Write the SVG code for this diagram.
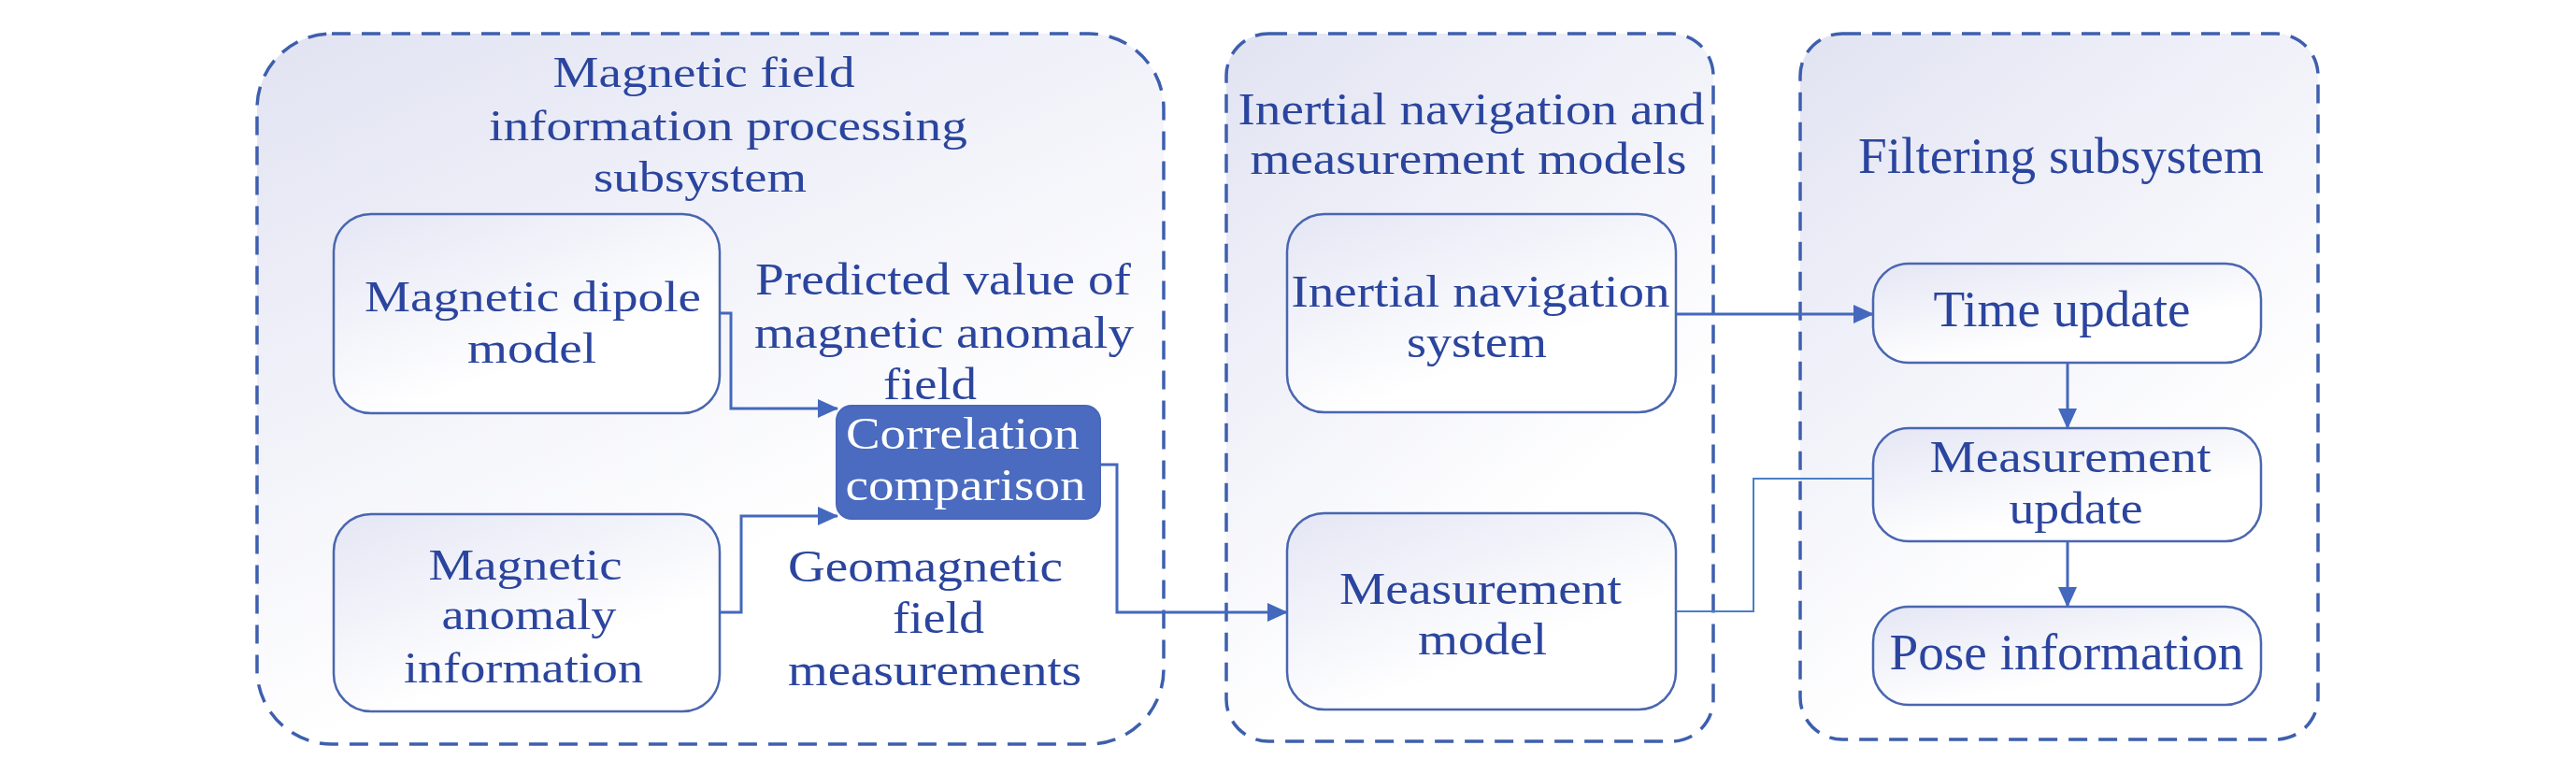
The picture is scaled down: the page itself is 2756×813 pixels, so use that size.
<svg xmlns="http://www.w3.org/2000/svg" width="2756" height="813" viewBox="0 0 2756 813">
<defs>
<linearGradient id="gOuter" x1="0" y1="0" x2="0.55" y2="1">
<stop offset="0" stop-color="#e1e3f2"/>
<stop offset="0.8" stop-color="#ffffff"/>
</linearGradient>
<linearGradient id="gInner" x1="0" y1="0" x2="0.7" y2="1">
<stop offset="0" stop-color="#e4e6f4"/>
<stop offset="0.75" stop-color="#ffffff"/>
</linearGradient>
<marker id="arr" viewBox="0 0 22 20" refX="21" refY="10" markerWidth="22" markerHeight="20" markerUnits="userSpaceOnUse" orient="auto">
<path d="M0,0 L22,10 L0,20 Z" fill="#4468bd"/>
</marker>
</defs>
<style>
.outer{fill:url(#gOuter);stroke:#3e5fae;stroke-width:3.5;stroke-dasharray:20 12}
.box{fill:url(#gInner);stroke:#4a66b0;stroke-width:2.5}
.t{font-family:"Liberation Serif","Times New Roman",serif;fill:#2b459e;text-anchor:middle}
.s47{font-size:47px}
.s48{font-size:48px}
.s50{font-size:50px}
.s54{font-size:54px}
.w{fill:#ffffff}
.conn{fill:none;stroke:#4468bd;stroke-width:3}
.thin{fill:none;stroke:#4a7fc6;stroke-width:2}
</style>
<rect width="2756" height="813" fill="#ffffff"/>

<g id="panel-magnetic">
<rect class="outer" x="275" y="36" width="970" height="760" rx="80" ry="80"/>
<text class="t s47" x="753" y="93" textLength="323" lengthAdjust="spacingAndGlyphs">Magnetic field</text>
<text class="t s47" x="779" y="150" textLength="512" lengthAdjust="spacingAndGlyphs">information processing</text>
<text class="t s47" x="749" y="205" textLength="228" lengthAdjust="spacingAndGlyphs">subsystem</text>
</g>

<g id="panel-inertial">
<rect class="outer" x="1312" y="36" width="521" height="757" rx="45" ry="45"/>
<text class="t s48" x="1574" y="133" textLength="499" lengthAdjust="spacingAndGlyphs">Inertial navigation and</text>
<text class="t s48" x="1571" y="186" textLength="467" lengthAdjust="spacingAndGlyphs">measurement models</text>
</g>

<g id="panel-filter">
<rect class="outer" x="1926" y="36" width="554" height="755" rx="45" ry="45"/>
<text class="t s54" x="2205" y="185" textLength="434" lengthAdjust="spacingAndGlyphs">Filtering subsystem</text>
</g>

<g id="node-dipole">
<rect class="box" x="357" y="229" width="413" height="213" rx="40" ry="40"/>
<text class="t s47" x="570" y="333" textLength="360" lengthAdjust="spacingAndGlyphs">Magnetic dipole</text>
<text class="t s47" x="569" y="388" textLength="138" lengthAdjust="spacingAndGlyphs">model</text>
</g>

<g id="node-anomaly">
<rect class="box" x="357" y="550" width="413" height="211" rx="40" ry="40"/>
<text class="t s47" x="562" y="620" textLength="207" lengthAdjust="spacingAndGlyphs">Magnetic</text>
<text class="t s47" x="566" y="673" textLength="187" lengthAdjust="spacingAndGlyphs">anomaly</text>
<text class="t s47" x="560" y="730" textLength="256" lengthAdjust="spacingAndGlyphs">information</text>
</g>

<g id="label-predicted">
<text class="t s48" x="1009" y="315" textLength="402" lengthAdjust="spacingAndGlyphs">Predicted value of</text>
<text class="t s48" x="1010" y="372" textLength="406" lengthAdjust="spacingAndGlyphs">magnetic anomaly</text>
<text class="t s48" x="995" y="427" textLength="100" lengthAdjust="spacingAndGlyphs">field</text>
</g>

<g id="node-correlation">
<rect x="895" y="434" width="282" height="121" rx="16" ry="16" fill="#4a6bbf" stroke="#4a66b8" stroke-width="2"/>
<text class="t s48 w" x="1030" y="480" textLength="250" lengthAdjust="spacingAndGlyphs">Correlation</text>
<text class="t s48 w" x="1033" y="535" textLength="257" lengthAdjust="spacingAndGlyphs">comparison</text>
</g>

<g id="label-geomagnetic">
<text class="t s48" x="990" y="622" textLength="294" lengthAdjust="spacingAndGlyphs">Geomagnetic</text>
<text class="t s48" x="1004" y="677" textLength="98" lengthAdjust="spacingAndGlyphs">field</text>
<text class="t s48" x="1000" y="733" textLength="314" lengthAdjust="spacingAndGlyphs">measurements</text>
</g>

<g id="node-ins">
<rect class="box" x="1377" y="229" width="416" height="212" rx="40" ry="40"/>
<text class="t s48" x="1584" y="328" textLength="405" lengthAdjust="spacingAndGlyphs">Inertial navigation</text>
<text class="t s48" x="1580" y="382" textLength="150" lengthAdjust="spacingAndGlyphs">system</text>
</g>

<g id="node-measmodel">
<rect class="box" x="1377" y="549" width="416" height="210" rx="40" ry="40"/>
<text class="t s48" x="1584" y="646" textLength="302" lengthAdjust="spacingAndGlyphs">Measurement</text>
<text class="t s48" x="1586" y="700" textLength="138" lengthAdjust="spacingAndGlyphs">model</text>
</g>

<g id="node-timeupdate">
<rect class="box" x="2004" y="282" width="415" height="106" rx="38" ry="38"/>
<text class="t s54" x="2206" y="349" textLength="275" lengthAdjust="spacingAndGlyphs">Time update</text>
</g>

<g id="node-measupdate">
<rect class="box" x="2004" y="458" width="415" height="121" rx="38" ry="38"/>
<text class="t s48" x="2215" y="505" textLength="301" lengthAdjust="spacingAndGlyphs">Measurement</text>
<text class="t s48" x="2221" y="560" textLength="143" lengthAdjust="spacingAndGlyphs">update</text>
</g>

<g id="node-pose">
<rect class="box" x="2004" y="649" width="415" height="105" rx="38" ry="38"/>
<text class="t s54" x="2211" y="716" textLength="379" lengthAdjust="spacingAndGlyphs">Pose information</text>
</g>

<g id="connectors">
<path class="conn" d="M770,335 H782 V437 H896" marker-end="url(#arr)"/>
<path class="conn" d="M770,655 H793 V552 H896" marker-end="url(#arr)"/>
<path class="conn" d="M1177,497 H1195 V655 H1377" marker-end="url(#arr)"/>
<path class="conn" d="M1793,336 H2004" marker-end="url(#arr)"/>
<path class="thin" d="M1793,654 H1876 V512 H2004"/>
<path class="conn" d="M2212,388 V458" marker-end="url(#arr)"/>
<path class="conn" d="M2212,579 V649" marker-end="url(#arr)"/>
</g>
</svg>
